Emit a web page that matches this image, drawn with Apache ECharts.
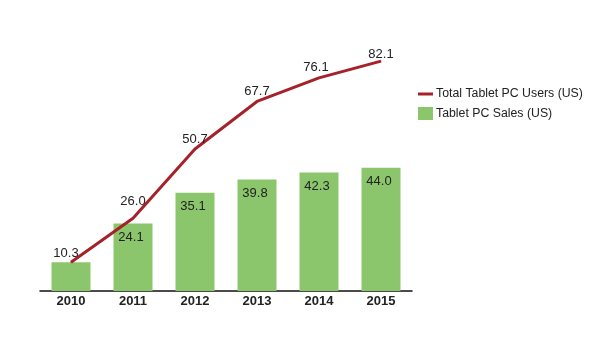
<!DOCTYPE html>
<html><head><meta charset="utf-8">
<script src="https://cdn.jsdelivr.net/npm/echarts@6/dist/echarts.min.js"></script>
<style>html,body{margin:0;padding:0;background:#fff}#c{width:592px;height:342px}</style>
</head><body><div id="c"></div>
<script>
const years = ['2010','2011','2012','2013','2014','2015'];
const totalUsers = [10.3, 26.0, 50.7, 67.7, 76.1, 82.1];
const sales = [10.3, 24.1, 35.1, 39.8, 42.3, 44.0];
const lineName = 'Total Tablet PC Users (US)';
const barName = 'Tablet PC Sales (US)';

const chart = echarts.init(document.getElementById('c'));
const font = 'Liberation Sans, Arial, sans-serif';
chart.setOption({
  animation: false,
  grid: {left: 40, right: 180, top: 11, bottom: 51},
  legend: {
    orient: 'vertical', left: 413, top: 83, itemGap: 7,
    itemWidth: 15, itemHeight: 13,
    textStyle: {fontFamily: font, fontSize: 12.3, color: '#222', padding: [0,0,0,-2]},
    data: [{name: lineName, icon: 'path://M0,0 L15,0 L15,3 L0,3 Z', itemStyle:{color:'#a5222a'}}, {name: barName, icon: 'rect'}]
  },
  xAxis: {
    type: 'category', data: years,
    axisLine: {lineStyle: {color: '#111', width: 1.5}},
    axisTick: {show: false},
    axisLabel: {fontFamily: font, fontWeight: 'bold', fontSize: 13, color: '#222', margin: 4}
  },
  yAxis: {type: 'value', min: 0, max: 100, show: false, splitLine: {show: false}},
  series: [
    {
      name: barName, type: 'bar', data: sales, barWidth: 39, z: 1,
      itemStyle: {color: '#8cc66c'},
      label: {show: true, position: 'insideTop', distance: 7, offset: [-2, 0],
        fontFamily: font, fontSize: 13, color: '#222',
        formatter: p => p.dataIndex === 0 ? '' : p.value.toFixed(1)}
    },
    {
      name: lineName, type: 'line', data: totalUsers, symbol: 'circle', symbolSize: 1, showSymbol: true, z: 3,
      lineStyle: {color: '#a5222a', width: 3},
      itemStyle: {color: '#a5222a'},
      label: {show: true, position: 'top', distance: 3, offset: [-3, 0], fontFamily: font, fontSize: 13, color: '#222',
        formatter: p => p.value.toFixed(1)},
      labelLayout: p => {
        const d = [{dx: -5, dy: 1}, {dy: -7}, {}, {}, {dx: -3, dy: 0}, {dy: 3}];
        return d[p.dataIndex];
      }
    }
  ]
});
</script></body></html>
